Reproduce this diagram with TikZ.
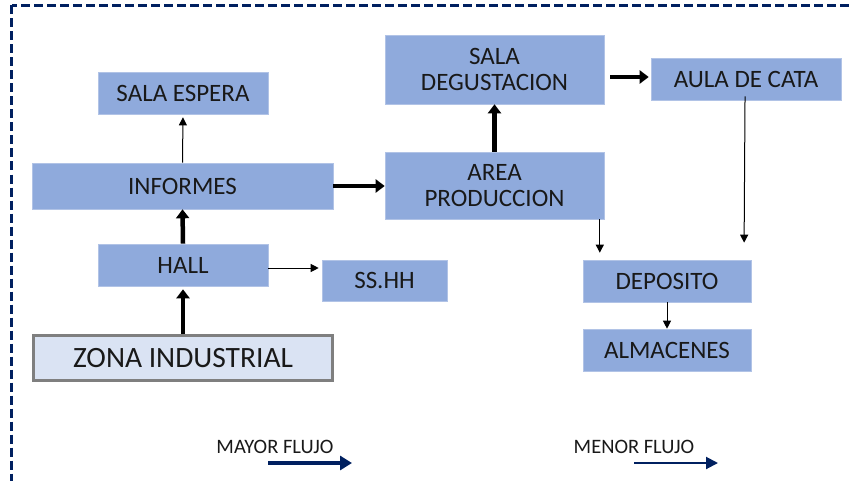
\documentclass[tikz,border=0pt]{standalone}
\usepackage{fontspec}
\setmainfont{Carlito}
\usetikzlibrary{arrows.meta}
\definecolor{boxblue}{HTML}{8FAADC}
\definecolor{navy}{HTML}{002060}
\definecolor{zonafill}{HTML}{DAE3F3}
\definecolor{zonaedge}{HTML}{7F7F7F}
\begin{document}
\begin{tikzpicture}[x=1pt,y=-1pt,
  box/.style={fill=boxblue, draw=boxblue!70!white, line width=0.6pt, inner sep=0pt, align=center,
    font=\fontsize{25}{26}\selectfont, text=black!90},
  bigarr/.style={line width=4.5pt, -{Triangle[length=9pt,width=13pt]}},
  thinarr/.style={line width=1pt, -{Triangle[length=8pt,width=8pt]}},
  legarr/.style={draw=navy, -{Triangle[length=12pt,width=14pt]}},
  legtext/.style={font=\fontsize{20.5}{22}\selectfont, text=black!90, inner sep=0pt}
]
\useasboundingbox (0,0) rectangle (850,481);
\begin{scope}
\clip (0,0) rectangle (850,481);
\draw[navy, line width=3pt, dash pattern=on 9pt off 4pt] (11.5,5.5) rectangle (900,530);
\end{scope}

\node[box, minimum width=170pt, minimum height=42pt] (se) at (183,93) {SALA ESPERA};
\node[box, minimum width=301pt, minimum height=46pt] (inf) at (182.5,186) {INFORMES};
\node[box, minimum width=170pt, minimum height=42pt] (hall) at (183,265) {HALL};
\node[box, minimum width=125pt, minimum height=41pt] (ss) at (384.5,280.5) {SS.HH};
\node[fill=zonafill, draw=zonaedge, line width=3pt, inner sep=0pt, minimum width=299pt, minimum height=45pt,
  font=\fontsize{29.5}{32}\selectfont, text=black!90] (zona) at (183,358) {ZONA INDUSTRIAL};
\node[box, minimum width=219pt, minimum height=69pt] (sd) at (494.5,69.5) {SALA\\DEGUSTACION};
\node[box, minimum width=219pt, minimum height=67pt] (ap) at (494.5,185.5) {AREA\\PRODUCCION};
\node[box, minimum width=190pt, minimum height=42pt] (aula) at (746,79) {AULA DE CATA};
\node[box, minimum width=168pt, minimum height=42pt] (dep) at (667,281) {DEPOSITO};
\node[box, minimum width=168pt, minimum height=42pt] (alm) at (667,350) {ALMACENES};

\draw[thinarr, shorten >=3pt] (inf.north) -- (se.south);
\draw[bigarr] (hall.north) -- (inf.south);
\draw[bigarr, shorten >=3pt] (zona.north) -- (hall.south);
\draw[thinarr, shorten >=3pt] ([yshift=-3pt]hall.east) -- ([yshift=-3pt]hall.east -| ss.west);
\draw[bigarr] (inf.east) -- (inf.east -| ap.west);
\draw[bigarr] (ap.north) -- (sd.south);
\draw[bigarr, shorten <=6pt, shorten >=2pt] ([yshift=-7.5pt]sd.east) -- ([yshift=-7.5pt]sd.east -| aula.west);
\draw[thinarr, shorten >=7pt] ([xshift=-4.5pt]ap.south east) -- ([xshift=-4.5pt]ap.south east |- dep.north);
\draw[thinarr, shorten <=-4pt, shorten >=17pt] ([xshift=-1pt]aula.south) -- ([xshift=-2pt]aula.south |- dep.north);
\draw[thinarr] (dep.south) -- (alm.north);

\node[legtext] (mayor) at (275,447) {MAYOR FLUJO};
\coordinate (m1) at (268,463);
\coordinate (m2) at (352,463);
\draw[legarr, line width=3.3pt] (m1) -- (m2);
\node[legtext] (menor) at (634,447) {MENOR FLUJO};
\coordinate (n1) at (634,463);
\coordinate (n2) at (718,463);
\draw[legarr, line width=2pt, -{Triangle[length=12pt,width=12pt]}] (n1) -- (n2);
\end{tikzpicture}
\end{document}
